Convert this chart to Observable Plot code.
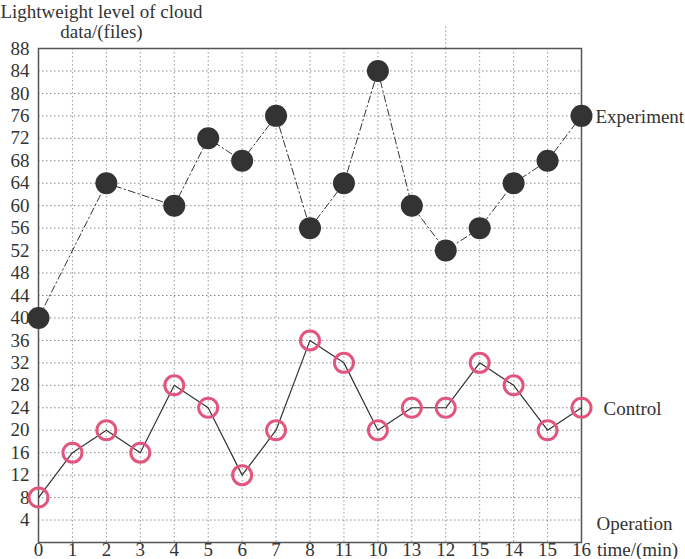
<!DOCTYPE html>
<html>
<head>
<meta charset="utf-8">
<script src="https://cdn.jsdelivr.net/npm/d3@7"></script>
<script src="https://cdn.jsdelivr.net/npm/@observablehq/plot@0.6"></script>
<style>
html, body { margin: 0; padding: 0; background: #fff; }
</style>
</head>
<body>
<div id="chart"></div>
<script>
const xLabels = ["0","1","2","3","4","5","6","7","8","11","10","13","12","15","14","15","16"];
const yTicks = [4,8,12,16,20,24,28,32,36,40,44,48,52,56,60,64,68,72,76,80,84,88];
const expIndex = [0,2,4,5,6,7,8,9,10,11,12,13,14,15,16];
const expValues = [40,64,60,72,68,76,56,64,84,60,52,56,64,68,76];
const ctrlIndex = [0,1,2,3,4,5,6,7,8,9,10,11,12,13,14,15,16];
const ctrlValues = [8,16,20,16,28,24,12,20,36,32,20,24,24,32,28,20,24];

const exp = expIndex.map((x, i) => ({x, y: expValues[i]}));
const ctrl = ctrlIndex.map((x, i) => ({x, y: ctrlValues[i]}));
const idx = d3.range(xLabels.length);

const font = "Liberation Serif, Times New Roman, serif";
const ink = "#333";
const fs = 19;

const plot = Plot.plot({
  width: 685,
  height: 559,
  marginLeft: 38,
  marginRight: 104,
  marginTop: 48,
  marginBottom: 17,
  style: {fontFamily: font, fontSize: fs + "px", color: "#333", background: "#fff", overflow: "visible"},
  x: {type: "linear", domain: [0, 16], ticks: idx, tickFormat: i => xLabels[i], tickSize: 0, tickPadding: 0, label: null},
  y: {domain: [0, 88], ticks: yTicks, tickSize: 0, tickPadding: 9, label: null},
  marks: [
    Plot.gridY(yTicks.filter(v => v < 88), {stroke: "#888", strokeOpacity: 1, strokeWidth: 1, strokeDasharray: "1.5,2.5"}),
    Plot.gridX(idx.filter(i => i > 0 && i < 16), {stroke: "#999", strokeOpacity: 1, strokeWidth: 1, strokeDasharray: "1.5,2.5"}),
    Plot.ruleX([12], {y1: 88, y2: 92, stroke: "#999", strokeDasharray: "1.5,2.5", clip: false}),
    Plot.frame({stroke: "#555", strokeWidth: 1.5}),
    Plot.line(exp, {x: "x", y: "y", stroke: ink, strokeWidth: 1, strokeDasharray: "7,3,1.5,3"}),
    Plot.line(ctrl, {x: "x", y: "y", stroke: ink, strokeWidth: 1.2}),
    Plot.dot(exp, {x: "x", y: "y", r: 11, fill: "#333", stroke: "none"}),
    Plot.dot(ctrl, {x: "x", y: "y", r: 9.5, fill: "none", stroke: "#e2557c", strokeWidth: 3}),
    Plot.text(["Experiment"], {frameAnchor: "top-right", dx: 14, dy: 68, textAnchor: "start", lineAnchor: "middle", fontSize: fs, fill: ink}),
    Plot.text(["Control"], {frameAnchor: "top-right", dx: 22, dy: 360, textAnchor: "start", lineAnchor: "middle", fontSize: fs, fill: ink}),
    Plot.text(["Lightweight level of cloud"], {frameAnchor: "top-left", dx: 63, dy: -37, textAnchor: "middle", lineAnchor: "middle", fontSize: fs, fill: ink}),
    Plot.text(["data/(files)"], {frameAnchor: "top-left", dx: 63, dy: -17, textAnchor: "middle", lineAnchor: "middle", fontSize: fs, fill: ink}),
    Plot.text(["Operation"], {frameAnchor: "bottom-right", dx: 53, dy: -19, textAnchor: "middle", lineAnchor: "middle", fontSize: fs, fill: ink}),
    Plot.text(["time/(min)"], {frameAnchor: "bottom-right", dx: 56, dy: 7, textAnchor: "middle", lineAnchor: "middle", fontSize: fs, fill: ink})
  ]
});
document.getElementById("chart").appendChild(plot);
</script>
</body>
</html>
